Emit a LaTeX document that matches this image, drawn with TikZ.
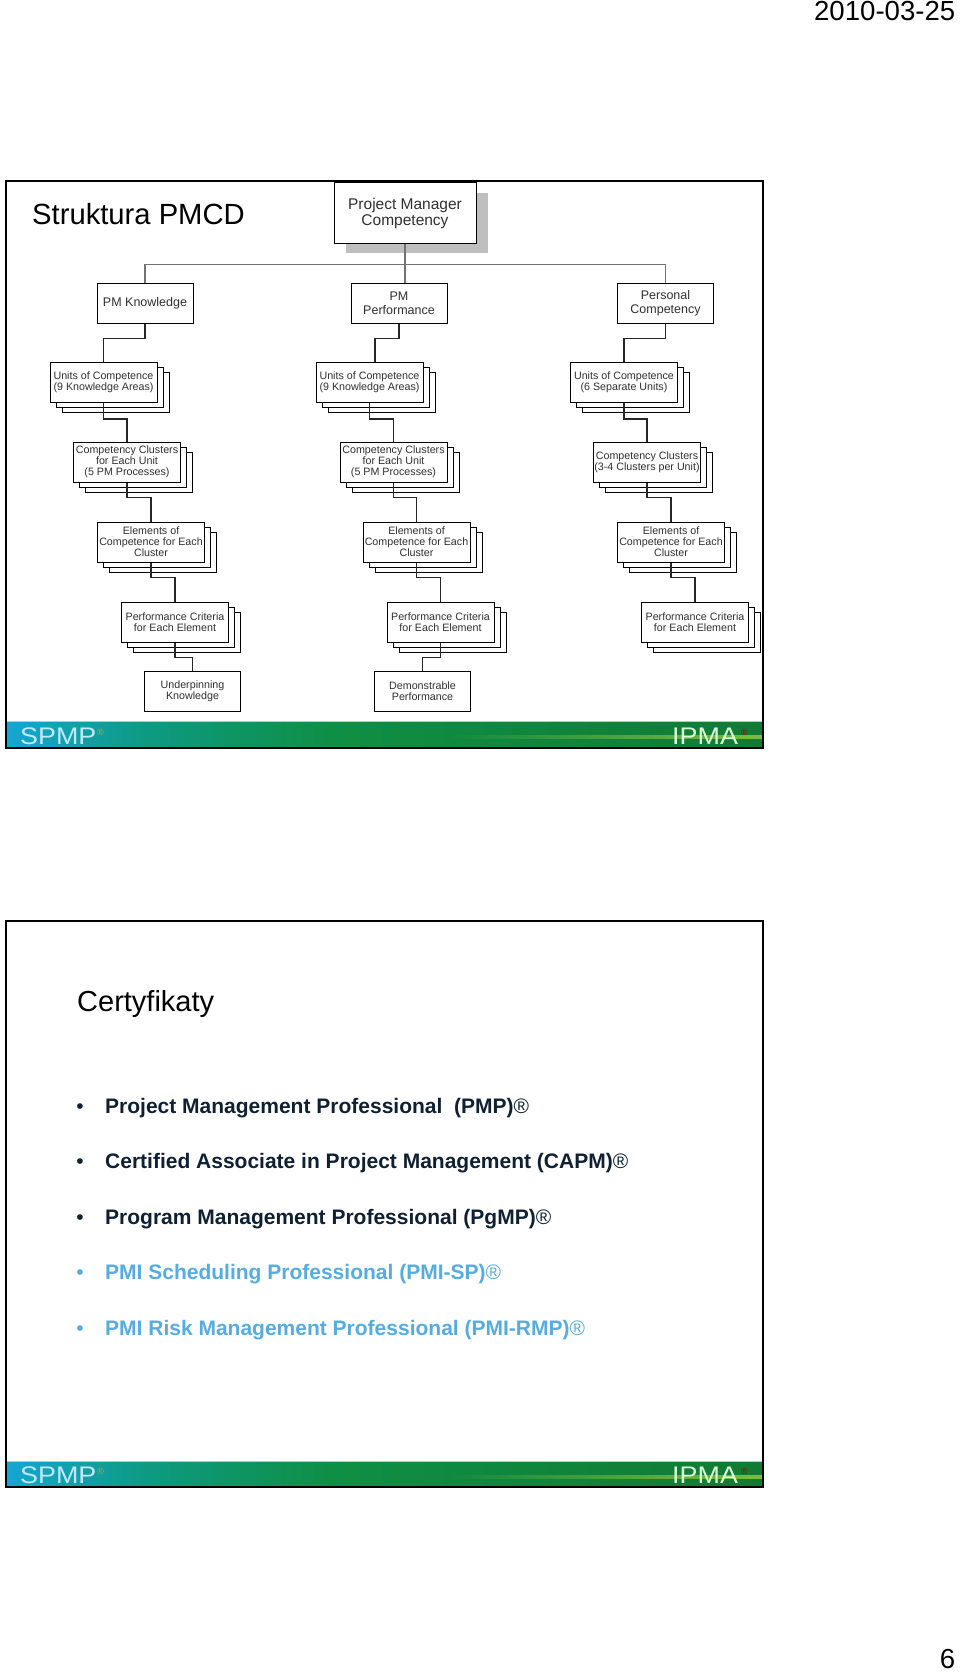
\documentclass[tikz,border=0pt]{standalone}
\usepackage{fontspec}
\setmainfont{Liberation Sans}
\usetikzlibrary{shadows}
\definecolor{navy}{HTML}{0F2033}
\definecolor{skyblue}{HTML}{55ACE2}
\definecolor{bandblue}{HTML}{16A6D2}
\definecolor{bandteal}{HTML}{0D9A80}
\definecolor{bandgreen}{HTML}{0F8F45}
\definecolor{banddark}{HTML}{127A33}
\definecolor{bandlight}{HTML}{7DBB3E}
\definecolor{boxtext}{HTML}{303030}

\tikzset{
	headbox/.style={draw=black,fill=white,line width=1pt,minimum width=96pt,minimum height=40pt,inner sep=0pt,align=center,text=boxtext,font=\fontsize{12.5}{14}\selectfont},
	stackbox/.style={draw=black,fill=white,line width=1pt,minimum width=107pt,minimum height=40pt,inner sep=0pt,align=center,text=boxtext,font=\fontsize{10.7}{11}\selectfont,double copy shadow={shadow xshift=6pt,shadow yshift=-5pt}},
	rootbox/.style={draw=black,fill=white,line width=1pt,minimum width=142pt,minimum height=60pt,inner sep=0pt,align=center,text=boxtext,font=\fontsize{15.5}{16}\selectfont,general shadow={fill=black!25,shadow xshift=12pt,shadow yshift=-10pt}},
	link/.style={draw=black!85,line width=1.1pt},
	bullettext/.style={anchor=base west,inner sep=0pt,font=\fontsize{21}{21}\selectfont\bfseries},
	bulletmark/.style={anchor=base,inner sep=0pt,font=\fontsize{21}{21}\selectfont},
	bandtext/.style={anchor=base west,inner sep=0pt,font=\fontsize{24}{24}\selectfont,xscale=1.12},
	regmark/.style={anchor=base west,inner sep=0pt,font=\fontsize{9}{9}\selectfont}
}

\begin{document}
\begin{tikzpicture}[x=1pt,y=-1pt]
	\useasboundingbox (0,0) rectangle (960,1672);

	\node[anchor=base east,inner sep=0pt,font=\fontsize{27.6}{28}\selectfont] (datelabel) at (955.5,21){2010-03-25};
	\node[anchor=base east,inner sep=0pt,font=\fontsize{27.6}{28}\selectfont] (pagelabel) at (955.5,1668){6};

	% first slide
	\shade[left color=bandblue,right color=bandteal] (6,721) rectangle (150,748);
	\shade[left color=bandteal,right color=bandgreen] (150,721) rectangle (330,748);
	\shade[left color=bandgreen,right color=banddark] (330,721) rectangle (763,748);
	\shade[left color=bandgreen!72!banddark,right color=bandlight] (450,735.5) rectangle (763,738.5);
	\draw[bandteal!40!white] (6,721.5) -- (763,721.5);
	\draw[line width=2.2pt] (6,181) rectangle (763,748);

	\node[anchor=base west,inner sep=0pt,font=\fontsize{29.2}{30}\selectfont] (titlea) at (32,224){Struktura PMCD};
	\node[bandtext,text=cyan!25!white] (spmpa) at (20,744.5){SPMP};
	\node[regmark,text=olive!70!white] (spmpmarka) at (97,735){®};
	\node[bandtext,text=green!15!white] (ipmaa) at (672,744.5){IPMA};
	\node[regmark,text=red!70!black] (ipmamarka) at (741,735){®};

	\node[rootbox] (root) at (405,213){Project Manager\\Competency};
	\node[headbox] (knowledge) at (145,303){PM Knowledge};
	\node[headbox] (performance) at (399,303){PM\\Performance};
	\node[headbox] (personal) at (665.5,303){Personal\\Competency};

	\node[stackbox] (unitsa) at (103.5,382.5){Units of Competence\\(9 Knowledge Areas)};
	\node[stackbox] (clustersa) at (127,462){Competency Clusters\\for Each Unit\\(5 PM Processes)};
	\node[stackbox] (elementsa) at (151,542){Elements of\\Competence for Each\\Cluster};
	\node[stackbox] (criteriaa) at (175,622){Performance Criteria\\for Each Element};
	\node[headbox,font=\fontsize{10.7}{11}\selectfont] (underpinning) at (192.5,691.5){Underpinning\\Knowledge};

	\node[stackbox] (unitsb) at (369.5,382.5){Units of Competence\\(9 Knowledge Areas)};
	\node[stackbox] (clustersb) at (393.5,462){Competency Clusters\\for Each Unit\\(5 PM Processes)};
	\node[stackbox] (elementsb) at (416.5,542){Elements of\\Competence for Each\\Cluster};
	\node[stackbox] (criteriab) at (440.5,622){Performance Criteria\\for Each Element};
	\node[headbox,font=\fontsize{10.7}{11}\selectfont] (demonstrable) at (422.5,691.5){Demonstrable\\Performance};

	\node[stackbox] (unitsc) at (624,382.5){Units of Competence\\(6 Separate Units)};
	\node[stackbox] (clustersc) at (647,462){Competency Clusters\\(3-4 Clusters per Unit)};
	\node[stackbox] (elementsc) at (671,542){Elements of\\Competence for Each\\Cluster};
	\node[stackbox] (criteriac) at (695,622){Performance Criteria\\for Each Element};

	\draw[link,draw=black!55] (root.south) -- (root.south |- performance.north);
	\draw[link,draw=black!55] (root.south) -- ++(0,21) -| (knowledge.north);
	\draw[link,draw=black!55] (root.south) -- ++(0,21) -| (personal.north);

	\draw[link] (knowledge.south) -- ++(0,15) -| (unitsa.north);
	\draw[link] (unitsa.south) -- ++(0,16) -| (clustersa.north);
	\draw[link] (clustersa.south) -- ++(0,15) -| (elementsa.north);
	\draw[link] (elementsa.south) -- ++(0,15) -| (criteriaa.north);
	\draw[link] (criteriaa.south) -- ++(0,15) -| (underpinning.north);

	\draw[link] (performance.south) -- ++(0,15) -| ([xshift=5.5pt]unitsb.north);
	\draw[link] (unitsb.south) -- ++(0,16) -| (clustersb.north);
	\draw[link] (clustersb.south) -- ++(0,15) -| (elementsb.north);
	\draw[link] (elementsb.south) -- ++(0,15) -| (criteriab.north);
	\draw[link] (criteriab.south) -- ++(0,15) -| (demonstrable.north);

	\draw[link] (personal.south) -- ++(0,15) -| (unitsc.north);
	\draw[link] (unitsc.south) -- ++(0,16) -| (clustersc.north);
	\draw[link] (clustersc.south) -- ++(0,15) -| (elementsc.north);
	\draw[link] (elementsc.south) -- ++(0,15) -| (criteriac.north);

	% second slide
	\shade[left color=bandblue,right color=bandteal] (6,1461) rectangle (150,1487);
	\shade[left color=bandteal,right color=bandgreen] (150,1461) rectangle (330,1487);
	\shade[left color=bandgreen,right color=banddark] (330,1461) rectangle (763,1487);
	\shade[left color=bandgreen!72!banddark,right color=bandlight] (450,1475) rectangle (763,1478);
	\draw[bandteal!40!white] (6,1461.5) -- (763,1461.5);
	\draw[line width=2.2pt] (6,921) rectangle (763,1487);

	\node[anchor=base west,inner sep=0pt,font=\fontsize{29}{30}\selectfont] (titleb) at (77,1011){Certyfikaty};

	\node[bulletmark,text=navy] (marka) at (80,1113){•};
	\node[bullettext,text=navy] (linea) at (105,1113){Project Management Professional\ \ (PMP){\mdseries ®}};
	\node[bulletmark,text=navy] (markb) at (80,1168.5){•};
	\node[bullettext,text=navy] (lineb) at (105,1168.5){Certified Associate in Project Management (CAPM){\mdseries ®}};
	\node[bulletmark,text=navy] (markc) at (80,1224){•};
	\node[bullettext,text=navy] (linec) at (105,1224){Program Management Professional (PgMP){\mdseries ®}};
	\node[bulletmark,text=skyblue] (markd) at (80,1279.5){•};
	\node[bullettext,text=skyblue] (lined) at (105,1279.5){PMI Scheduling Professional (PMI-SP){\mdseries ®}};
	\node[bulletmark,text=skyblue] (marke) at (80,1335){•};
	\node[bullettext,text=skyblue] (linee) at (105,1335){PMI Risk Management Professional (PMI-RMP){\mdseries ®}};

	\node[bandtext,text=cyan!25!white] (spmpb) at (20,1483.5){SPMP};
	\node[regmark,text=olive!70!white] (spmpmarkb) at (97,1474){®};
	\node[bandtext,text=green!15!white] (ipmab) at (672,1483.5){IPMA};
	\node[regmark,text=red!70!black] (ipmamarkb) at (741,1474){®};
\end{tikzpicture}
\end{document}
